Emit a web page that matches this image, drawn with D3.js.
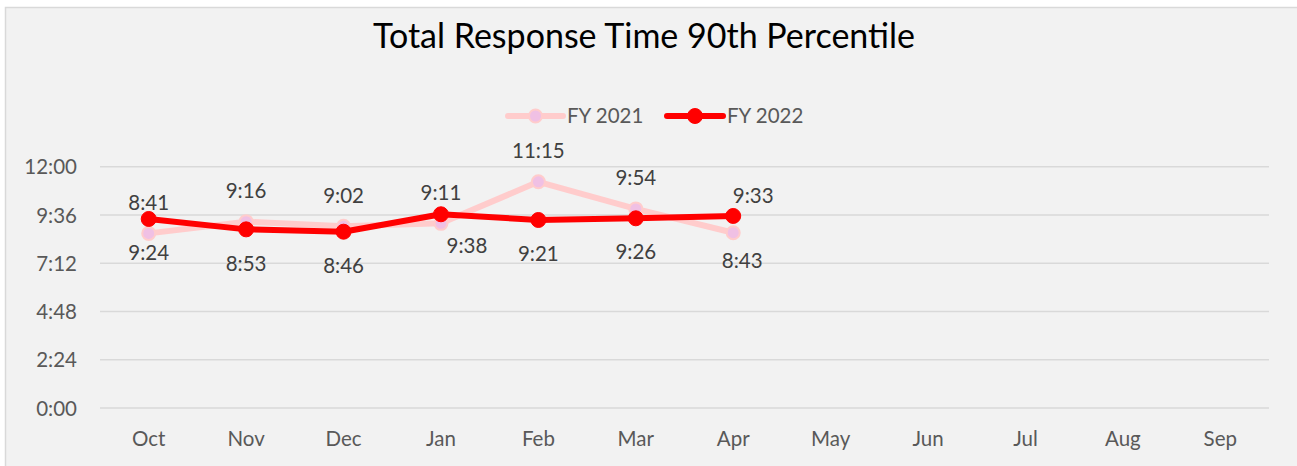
<!DOCTYPE html>
<html>
<head>
<meta charset="utf-8">
<script src="https://cdn.jsdelivr.net/npm/d3@7"></script>
<style>
  html, body { margin: 0; padding: 0; background: #ffffff; }
  svg { display: block; }
  text { font-family: Lato, "Open Sans", sans-serif; }
</style>
</head>
<body>
<svg id="chart" width="1297" height="466"></svg>
<script>
// ---- data ----
const months = ["Oct","Nov","Dec","Jan","Feb","Mar","Apr","May","Jun","Jul","Aug","Sep"];
const fy2021 = ["8:41","9:16","9:02","9:11","11:15","9:54","8:43"];
const fy2022 = ["9:24","8:53","8:46","9:38","9:21","9:26","9:33"];
const yTickLabels = ["0:00","2:24","4:48","7:12","9:36","12:00"];
const seriesNames = ["FY 2021","FY 2022"];
const chartTitle = "Total Response Time 90th Percentile";

const toSec = s => { const [m, ss] = s.split(":").map(Number); return m * 60 + ss; };

const W = 1297, H = 466;
const svg = d3.select("#chart");

// frame
svg.append("rect").attr("x", 5.5).attr("y", 7.5).attr("width", W + 10).attr("height", H + 10)
  .attr("fill", "#f2f2f2").attr("stroke", "#d9d9d9").attr("stroke-width", 1.5);

const pLeft = 100, pRight = 1269, pTop = 166.7, pBottom = 408;
const x = d3.scaleBand().domain(months).range([pLeft, pRight]);
const yTicks = yTickLabels.map(toSec);
const y = d3.scaleLinear().domain([0, d3.max(yTicks)]).range([pBottom, pTop]);

// gridlines
svg.append("g").selectAll("line").data(yTicks).join("line")
  .attr("x1", pLeft).attr("x2", pRight)
  .attr("y1", d => y(d)).attr("y2", d => y(d))
  .attr("stroke", "#d9d9d9").attr("stroke-width", 1.5);

// y axis
const yAxis = d3.axisLeft(y).tickValues(yTicks).tickSize(0).tickPadding(0)
  .tickFormat((d, i) => yTickLabels[i]);
const gy = svg.append("g").attr("transform", `translate(77,0)`).call(yAxis);
gy.select(".domain").remove();
gy.selectAll("text").attr("fill", "#595959").style("font-size", "20.5px")
  .style("font-family", "Lato, 'Open Sans', sans-serif").attr("dy", "0.35em");

// x axis
const xAxis = d3.axisBottom(x).tickSize(0).tickPadding(0);
const gx = svg.append("g").attr("transform", `translate(0,${pBottom})`).call(xAxis);
gx.select(".domain").remove();
gx.selectAll("text").attr("fill", "#595959").style("font-size", "20.5px")
  .style("font-family", "Lato, 'Open Sans', sans-serif").attr("y", 31).attr("dy", "0.35em");

// title
svg.append("text").attr("x", 644).attr("y", 36).attr("text-anchor", "middle")
  .attr("dy", "0.35em").attr("fill", "#000").style("font-size", "34px").text(chartTitle);

const styles = [
  { line: "#ffcccc", lw: 6, fill: "#f0c0e4", stroke: "#ffcccc", sw: 2, r: 6.5 },
  { line: "#ff0000", lw: 6, fill: "#ff0000", stroke: "#ff0000", sw: 1, r: 7.5 }
];
const allSeries = [fy2021, fy2022];

const lineGen = d3.line()
  .x((d, i) => x(months[i]) + x.bandwidth() / 2)
  .y(d => y(toSec(d)));

allSeries.forEach((s, k) => {
  const st = styles[k];
  const g = svg.append("g");
  g.append("path").datum(s).attr("d", lineGen).attr("fill", "none")
    .attr("stroke", st.line).attr("stroke-width", st.lw).attr("stroke-linejoin", "round");
  g.selectAll("circle").data(s).join("circle")
    .attr("cx", (d, i) => x(months[i]) + x.bandwidth() / 2)
    .attr("cy", d => y(toSec(d)))
    .attr("r", st.r).attr("fill", st.fill).attr("stroke", st.stroke).attr("stroke-width", st.sw);
});

// data labels: FY2021 above, FY2022 below, with a few nudges as in the reference
const nudge = {
  "0-6": { dx: 9, dy: 28 },
  "1-3": { dx: 26, dy: 32 },
  "1-6": { dx: 20, dy: -20 }
};
allSeries.forEach((s, k) => {
  svg.append("g").selectAll("text").data(s).join("text")
    .attr("x", (d, i) => x(months[i]) + x.bandwidth() / 2 + ((nudge[k + "-" + i] || {}).dx || 0))
    .attr("y", (d, i) => y(toSec(d)) + ((nudge[k + "-" + i] || {}).dy ?? (k === 0 ? -31 : 34)))
    .attr("dy", "0.35em").attr("text-anchor", "middle")
    .attr("fill", "#404040").style("font-size", "20.5px").text(d => d);
});

// legend
const legend = [
  { x1: 508, x2: 563, tx: 567 },
  { x1: 667, x2: 723, tx: 727 }
];
legend.forEach((L, k) => {
  const st = styles[k];
  const g = svg.append("g");
  g.append("line").attr("x1", L.x1).attr("x2", L.x2).attr("y1", 116).attr("y2", 116)
    .attr("stroke", st.line).attr("stroke-width", st.lw).attr("stroke-linecap", "round");
  g.append("circle").attr("cx", (L.x1 + L.x2) / 2).attr("cy", 116).attr("r", st.r)
    .attr("fill", st.fill).attr("stroke", st.stroke).attr("stroke-width", st.sw);
  g.append("text").attr("x", L.tx).attr("y", 116).attr("dy", "0.35em")
    .attr("fill", "#595959").style("font-size", "20.5px").text(seriesNames[k]);
});
</script>
</body>
</html>
